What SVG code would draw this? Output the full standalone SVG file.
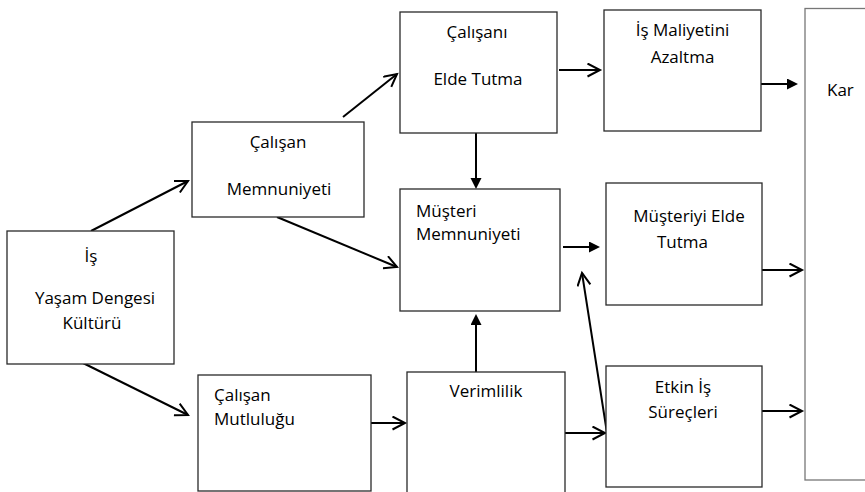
<svg xmlns="http://www.w3.org/2000/svg" width="865" height="492" viewBox="0 0 865 492">
<style>
.box{fill:#fff;stroke:#2a2a2a;stroke-width:1.3}
.kar{fill:#fff;stroke:#777;stroke-width:1.3}
.t{font-family:"Open Sans","Noto Sans","DejaVu Sans",sans-serif;font-size:17px;fill:#000}
.c{text-anchor:middle}
.ln{stroke:#000;stroke-width:2;fill:none}
.op{marker-end:url(#open)}
.fl{marker-end:url(#fill)}
</style>
<defs>
<marker id="open" markerUnits="userSpaceOnUse" markerWidth="16" markerHeight="16" refX="13" refY="7" orient="auto">
<path d="M0.5,0.5 L13,7 L0.5,13.5" fill="none" stroke="#000" stroke-width="2"/>
</marker>
<marker id="fill" markerUnits="userSpaceOnUse" markerWidth="14" markerHeight="14" refX="7" refY="5.5" orient="auto">
<path d="M0,0 L11,5.5 L0,11 z" fill="#000"/>
</marker>
</defs>
<rect width="865" height="492" fill="#fff"/>
<g id="connectors">
<line class="ln op" x1="91" y1="231" x2="188" y2="181"/>
<line class="ln op" x1="343" y1="117" x2="397" y2="74"/>
<line class="ln op" x1="277" y1="217" x2="397" y2="267"/>
<line class="ln op" x1="83" y1="363" x2="188" y2="415"/>
<line class="ln op" x1="371" y1="423" x2="405" y2="423"/>
<line class="ln op" x1="559" y1="70" x2="600" y2="70"/>
<line class="ln fl" x1="476" y1="133" x2="476" y2="185"/>
<line class="ln fl" x1="759" y1="84" x2="794" y2="84"/>
<line class="ln fl" x1="563" y1="247" x2="596" y2="247"/>
<line class="ln fl" x1="476" y1="372" x2="476" y2="318"/>
<line class="ln op" x1="762" y1="270" x2="802" y2="270"/>
<line class="ln op" x1="762" y1="411" x2="802" y2="411"/>
<line class="ln op" x1="565" y1="433" x2="605" y2="433"/>
<line class="ln op" x1="607" y1="433" x2="582" y2="273"/>
</g>
<g id="is-yasam">
<rect class="box" x="7" y="231" width="167" height="133"/>
<text class="t c" x="91" y="262">İş</text>
<text class="t c" x="95" y="304">Yaşam Dengesi</text>
<text class="t c" x="92" y="329">Kültürü</text>
</g>
<g id="calisan-memnuniyeti">
<rect class="box" x="192" y="122" width="172" height="95"/>
<text class="t c" x="278" y="148">Çalışan</text>
<text class="t c" x="279" y="195">Memnuniyeti</text>
</g>
<g id="calisan-mutlulugu">
<rect class="box" x="198" y="375" width="173" height="116"/>
<text class="t" x="214" y="401">Çalışan</text>
<text class="t" x="214" y="425">Mutluluğu</text>
</g>
<g id="calisani-elde-tutma">
<rect class="box" x="400" y="12" width="157" height="121"/>
<text class="t c" x="477" y="38">Çalışanı</text>
<text class="t c" x="478" y="85">Elde Tutma</text>
</g>
<g id="musteri-memnuniyeti">
<rect class="box" x="400" y="189" width="160" height="122"/>
<text class="t" x="416" y="217">Müşteri</text>
<text class="t" x="416" y="240">Memnuniyeti</text>
</g>
<g id="verimlilik">
<rect class="box" x="407" y="372" width="158" height="125"/>
<text class="t c" x="486" y="397">Verimlilik</text>
</g>
<g id="is-maliyetini-azaltma">
<rect class="box" x="604" y="10" width="157" height="121"/>
<text class="t c" x="682.5" y="36">İş Maliyetini</text>
<text class="t c" x="682.5" y="63">Azaltma</text>
</g>
<g id="musteriyi-elde-tutma">
<rect class="box" x="606" y="183" width="156" height="122"/>
<text class="t c" x="689" y="222">Müşteriyi Elde</text>
<text class="t c" x="682.5" y="248">Tutma</text>
</g>
<g id="etkin-is-surecleri">
<rect class="box" x="606" y="366" width="156" height="121"/>
<text class="t c" x="683" y="393">Etkin İş</text>
<text class="t c" x="683" y="418">Süreçleri</text>
</g>
<g id="kar">
<rect class="kar" x="805" y="8.5" width="70" height="471.5"/>
<text class="t" x="827" y="96">Kar</text>
</g>
</svg>
